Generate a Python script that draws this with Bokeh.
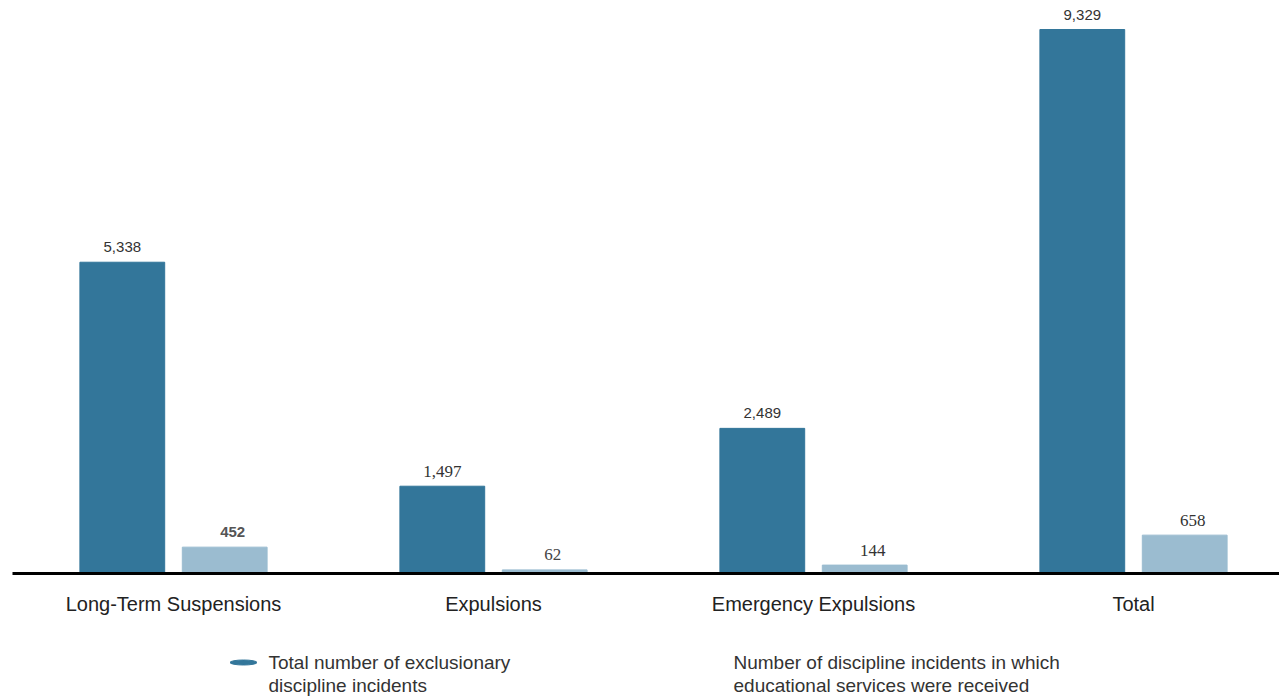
from bokeh.plotting import figure
from bokeh.models import Range1d, ColumnDataSource
from bokeh.core.properties import value
from bokeh.embed import file_html
from bokeh.resources import INLINE

# ---------------- data ----------------
categories = ["Long-Term Suspensions", "Expulsions", "Emergency Expulsions", "Total"]
total_incidents = [5338, 1497, 2489, 9329]
services_received = [452, 62, 144, 658]
series_names = [
    "Total number of exclusionary\ndiscipline incidents",
    "Number of discipline incidents in which\neducational services were received",
]

# ---------------- styles ----------------
DARK = "#33769A"
LIGHT = "#9BBCD0"
SANS = "Liberation Sans"
SERIF = "Liberation Serif"
dark_label_fonts = [SANS, SERIF, SANS, SANS]
dark_label_sizes = ["15px", "17px", "15px", "15px"]
light_label_fonts = [SANS, SERIF, SERIF, SERIF]
light_label_sizes = ["15px", "17px", "17px", "17px"]
light_label_styles = ["bold", "normal", "normal", "normal"]
light_label_colors = ["#555555", "#444444", "#333333", "#333333"]

W, H = 1279, 697
BASE_PX = 573          # pixel row of the baseline
TOP_PX = 29            # pixel row of the tallest bar
PX_PER_CAT = 320.0
CAT0_PX = 173.0
UPP = max(total_incidents) / (BASE_PX - TOP_PX)   # value units per pixel

def px_x(px):
    return (px - CAT0_PX) / PX_PER_CAT

def px_y(py):
    return (BASE_PX - py) * UPP

x_range = Range1d(px_x(0), px_x(W))
y_range = Range1d(px_y(H), px_y(0))

p = figure(width=W, height=H, x_range=x_range, y_range=y_range,
           output_backend="svg", toolbar_location=None, min_border=0,
           x_axis_type=None, y_axis_type=None, outline_line_color=None,
           background_fill_color="white", border_fill_color="white")
p.grid.visible = False

OFF = 0.16
BW = 0.265
idx = list(range(len(categories)))

src = ColumnDataSource(dict(
    xd=[i - OFF for i in idx],
    xl=[i + OFF for i in idx],
    total=total_incidents,
    serv=services_received,
    total_lbl=[f"{v:,}" for v in total_incidents],
    serv_lbl=[f"{v:,}" for v in services_received],
    dfont=dark_label_fonts, dsize=dark_label_sizes,
    lfont=light_label_fonts, lsize=light_label_sizes,
    lstyle=light_label_styles, lcolor=light_label_colors,
))

p.vbar(x="xd", top="total", bottom=0, width=BW, source=src,
       fill_color=DARK, line_color=DARK, line_width=1)
p.vbar(x="xl", top="serv", bottom=0, width=BW, source=src,
       fill_color=LIGHT, line_color=LIGHT, line_width=1)

# baseline
p.segment(x0=[px_x(12)], y0=[0], x1=[px_x(W)], y1=[0],
          line_color="black", line_width=3)

# value labels
p.text(x="xd", y="total", text="total_lbl", source=src,
       text_align="center", text_baseline="middle", y_offset=-15,
       text_font="dfont", text_font_size="dsize", text_color="#333333")
p.text(x="xl", y="serv", text="serv_lbl", source=src,
       text_align="center", text_baseline="middle", y_offset=-15, x_offset=8,
       text_font="lfont", text_font_size="lsize", text_font_style="lstyle",
       text_color="lcolor")

# category labels
p.text(x=idx, y=[px_y(603)] * len(idx), text=categories,
       text_align="center", text_baseline="middle",
       text_font=value(SANS), text_font_size="20px", text_color="#222222")

# legend
p.ellipse(x=[px_x(243)], y=[px_y(662)], width=27, height=5,
          width_units="screen", height_units="screen",
          fill_color=DARK, line_color=DARK)
leg_x, leg_y, leg_t = [], [], []
for name, lx in zip(series_names, [268, 733]):
    for k, line in enumerate(name.split("\n")):
        leg_x.append(px_x(lx))
        leg_y.append(px_y(662 + 23 * k))
        leg_t.append(line)
p.text(x=leg_x, y=leg_y, text=leg_t,
       text_align="left", text_baseline="middle",
       text_font=value(SANS), text_font_size="19px", text_color="#333333")

open("out.html", "w").write(file_html(p, INLINE))
